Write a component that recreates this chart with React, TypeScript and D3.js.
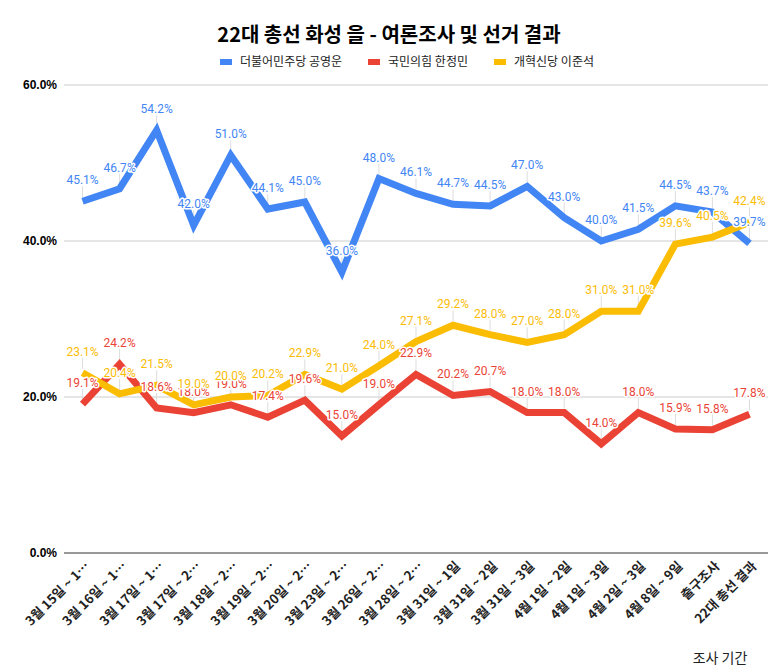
import React from "react";
import * as d3 from "d3";

const categories = [
  "3월 15일 ~ 1…", "3월 16일 ~ 1…", "3월 17일 ~ 1…", "3월 17일 ~ 2…", "3월 18일 ~ 2…",
  "3월 19일 ~ 2…", "3월 20일 ~ 2…", "3월 23일 ~ 2…", "3월 26일 ~ 2…", "3월 28일 ~ 2…",
  "3월 31일 ~ 1일", "3월 31일 ~ 2일", "3월 31일 ~ 3일", "4월 1일 ~ 2일", "4월 1일 ~ 3일",
  "4월 2일 ~ 3일", "4월 8일 ~ 9일", "출구조사", "22대 총선 결과",
];
const seriesNames = ["더불어민주당 공영운", "국민의힘 한정민", "개혁신당 이준석"];
const democratic = [45.1, 46.7, 54.2, 42.0, 51.0, 44.1, 45.0, 36.0, 48.0, 46.1, 44.7, 44.5, 47.0, 43.0, 40.0, 41.5, 44.5, 43.7, 39.7];
const peoplePower = [19.1, 24.2, 18.6, 18.0, 19.0, 17.4, 19.6, 15.0, 19.0, 22.9, 20.2, 20.7, 18.0, 18.0, 14.0, 18.0, 15.9, 15.8, 17.8];
const reform = [23.1, 20.4, 21.5, 19.0, 20.0, 20.2, 22.9, 21.0, 24.0, 27.1, 29.2, 28.0, 27.0, 28.0, 31.0, 31.0, 39.6, 40.5, 42.4];
const yTicks = [0, 20, 40, 60];
const title = "22대 총선 화성 을 - 여론조사 및 선거 결과";
const xTitle = "조사 기간";
const colors = ["#4285F4", "#EA4335", "#FBBC04"];

const W = 778, H = 670;
const left = 64, right = 768, top = 85, bottom = 553;

export default function App() {
  const x = d3.scaleBand<string>().domain(categories).range([left, right]);
  const y = d3.scaleLinear().domain([0, 60]).range([bottom, top]);
  const cx = (c: string) => (x(c) as number) + x.bandwidth() / 2;
  const series = [democratic, peoplePower, reform];
  const line = d3.line<number>().x((_, i) => cx(categories[i])).y((d) => y(d));
  const labelFont = "Roboto, 'Noto Sans CJK KR', sans-serif";
  const krFont = "'Noto Sans CJK KR', 'Liberation Sans', sans-serif";
  const legendItems = [
    { x: 220, name: seriesNames[0] },
    { x: 368, name: seriesNames[1] },
    { x: 494, name: seriesNames[2] },
  ];
  return (
    <svg width={W} height={H} style={{ position: "absolute", left: 0, top: 0, background: "#fff" }}>
      <rect x={0} y={0} width={W} height={H} fill="#fff" />
      <text x={W / 2} y={42} textAnchor="middle" fontSize={20} fontWeight="bold" fontFamily={krFont} fill="#000">{title}</text>
      {legendItems.map((it, i) => (
        <g key={i}>
          <rect x={it.x} y={59} width={12} height={6} fill={colors[i]} />
          <text x={it.x + 20} y={66} fontSize={12} fontFamily={krFont} fill="#222">{it.name}</text>
        </g>
      ))}
      {yTicks.map((t) => (
        <g key={t}>
          <line x1={left} x2={right} y1={y(t)} y2={y(t)} stroke={t === 0 ? "#333" : "#ccc"} strokeWidth={1} />
          <text x={57} y={y(t) + 4} textAnchor="end" fontSize={12} fontWeight="bold" fontFamily="'Liberation Sans', Arial, sans-serif" fill="#000">{t.toFixed(1)}%</text>
        </g>
      ))}
      {categories.map((c) => (
        <text key={c} transform={`translate(${cx(c) + 8},${567}) rotate(-45)`} textAnchor="end" fontSize={13} fontWeight="bold" fontFamily={krFont} fill="#222">{c}</text>
      ))}
      <text x={720} y={663} textAnchor="middle" fontSize={14} fontFamily={krFont} fill="#222">{xTitle}</text>
      {series.map((s, si) => (
        <g key={"l" + si}>
          {s.map((v, i) => (
            <line key={i} x1={cx(categories[i])} x2={cx(categories[i])} y1={y(v) - 4} y2={y(v) - 15} stroke="#ddd" strokeWidth={1} />
          ))}
        </g>
      ))}
      {series.map((s, si) => (
        <path key={"p" + si} d={line(s) || ""} fill="none" stroke={colors[si]} strokeWidth={7} strokeLinejoin="miter" />
      ))}
      {series.map((s, si) => (
        <g key={"t" + si}>
          {s.map((v, i) => (
            <text key={i} x={cx(categories[i])} y={y(v) - 17} textAnchor="middle" fontSize={12} fontFamily={labelFont}
              fill={colors[si]} stroke="#fff" strokeWidth={3} paintOrder="stroke" strokeLinejoin="round">{v.toFixed(1)}%</text>
          ))}
        </g>
      ))}
    </svg>
  );
}
